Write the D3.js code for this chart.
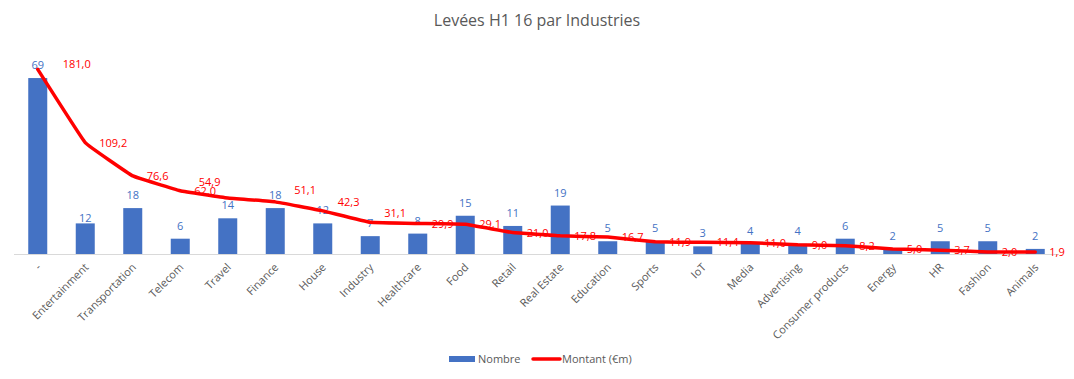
<!DOCTYPE html>
<html>
<head>
<meta charset="utf-8">
<script src="https://cdn.jsdelivr.net/npm/d3@7"></script>
<style>
  body { margin: 0; background: #fff; }
  svg { display: block; font-family: 'Open Sans', sans-serif; }
</style>
</head>
<body>
<div></div>
<script>
const industries = [
  '-', 'Entertainment', 'Transportation', 'Telecom', 'Travel', 'Finance',
  'House', 'Industry', 'Healthcare', 'Food', 'Retail', 'Real Estate',
  'Education', 'Sports', 'IoT', 'Media', 'Advertising', 'Consumer products',
  'Energy', 'HR', 'Fashion', 'Animals',
];
const nombre = [69, 12, 18, 6, 14, 18, 12, 7, 8, 15, 11, 19, 5, 5, 3, 4, 4, 6, 2, 5, 5, 2];
const montant = [
  181.0, 109.2, 76.6, 62.0, 54.9, 51.1, 42.3, 31.1, 29.9, 29.1, 21.0,
  17.8, 16.7, 11.9, 11.4, 11.0, 9.0, 8.2, 5.0, 3.7, 2.0, 1.9,
];
const seriesNames = ['Nombre', 'Montant (€m)'];
const title = 'Levées H1 16 par Industries';

// dimensions of svg

const w = 1074;
const h = 379;
const plotLeft = 14;
const plotRight = 1059;
const plotTop = 50;
const plotBottom = 254;

const blue = '#4472C4';
const red = '#FF0000';
const grey = '#595959';

// a few labels were dragged by hand in the original, [dx, dy]
const lineLabelNudge = {
  '-': [11, -5],
  Travel: [-43, -16],
  Finance: [5, -12],
  House: [1, -9],
  Industry: [0, -9],
};
const barLabelNudge = { Entertainment: [0, 8] };

const rows = industries.map((name, i) => ({ name, nombre: nombre[i], montant: montant[i] }));

const xScale = d3
  .scaleBand()
  .domain(industries)
  .range([plotLeft, plotRight])
  .paddingInner(0.6)
  .paddingOuter(0.3);

const yLeft = d3.scaleLinear().domain([0, 80]).range([plotBottom, plotTop]);
const yRight = d3.scaleLinear().domain([0, 200]).range([plotBottom, plotTop]);

const cx = (d) => xScale(d.name) + xScale.bandwidth() / 2;
const nudge = (table, d, k) => (table[d.name] ? table[d.name][k] : 0);
const fmt = (v) => v.toFixed(1).replace('.', ',');

const svg = d3
  .select('body')
  .select('div')
  .append('svg')
  .attr('width', w)
  .attr('height', h);

// title

svg
  .append('text')
  .attr('x', w / 2)
  .attr('y', 26)
  .attr('text-anchor', 'middle')
  .style('font-size', '16px')
  .style('fill', grey)
  .text(title);

// bars

svg
  .selectAll('rect.bar')
  .data(rows)
  .enter()
  .append('rect')
  .attr('class', 'bar')
  .attr('x', (d) => xScale(d.name))
  .attr('y', (d) => yLeft(d.nombre))
  .attr('width', xScale.bandwidth())
  .attr('height', (d) => yLeft(0) - yLeft(d.nombre))
  .style('fill', blue);

// x axis

const xAxis = d3.axisBottom(xScale).tickSize(0).tickPadding(0);

const gx = svg
  .append('g')
  .attr('transform', 'translate(0,' + plotBottom + ')')
  .call(xAxis);

gx.select('.domain').attr('stroke', '#d9d9d9').attr('d', 'M' + plotLeft + ',0.5H' + plotRight);

gx.selectAll('text')
  .attr('text-anchor', 'end')
  .attr('dy', 0)
  .attr('y', 0)
  .attr('transform', 'translate(4,14) rotate(-45)')
  .style('font-size', '11px')
  .style('font-family', "'Open Sans', sans-serif")
  .style('fill', grey);

// bar labels

svg
  .selectAll('text.bar-label')
  .data(rows)
  .enter()
  .append('text')
  .attr('class', 'bar-label')
  .attr('x', (d) => cx(d) + nudge(barLabelNudge, d, 0))
  .attr('y', (d) => yLeft(d.nombre) - 9 + nudge(barLabelNudge, d, 1))
  .attr('text-anchor', 'middle')
  .style('font-size', '11px')
  .style('fill', blue)
  .text((d) => d.nombre);

// line

const line = d3
  .line()
  .x(cx)
  .y((d) => yRight(d.montant))
  .curve(d3.curveCardinal.tension(0.8));

svg
  .append('path')
  .datum(rows)
  .attr('d', line)
  .attr('fill', 'none')
  .attr('stroke', red)
  .attr('stroke-width', 3.5)
  .attr('stroke-linejoin', 'round')
  .attr('stroke-linecap', 'round');

// line labels

svg
  .selectAll('text.line-label')
  .data(rows)
  .enter()
  .append('text')
  .attr('class', 'line-label')
  .attr('x', (d) => cx(d) + 14 + nudge(lineLabelNudge, d, 0))
  .attr('y', (d) => yRight(d.montant) + 4 + nudge(lineLabelNudge, d, 1))
  .style('font-size', '11px')
  .style('fill', red)
  .text((d) => fmt(d.montant));

// legend

const legend = svg.append('g').attr('transform', 'translate(449,359)');

legend
  .append('rect')
  .attr('x', 0)
  .attr('y', -3)
  .attr('width', 26)
  .attr('height', 6)
  .style('fill', blue);

legend
  .append('text')
  .attr('x', 29)
  .attr('y', 4)
  .style('font-size', '11px')
  .style('fill', grey)
  .text(seriesNames[0]);

legend
  .append('line')
  .attr('x1', 84)
  .attr('x2', 111)
  .attr('y1', 0)
  .attr('y2', 0)
  .attr('stroke', red)
  .attr('stroke-width', 3.5)
  .attr('stroke-linecap', 'round');

legend
  .append('text')
  .attr('x', 113)
  .attr('y', 4)
  .style('font-size', '11px')
  .style('fill', grey)
  .text(seriesNames[1]);
</script>
</body>
</html>
